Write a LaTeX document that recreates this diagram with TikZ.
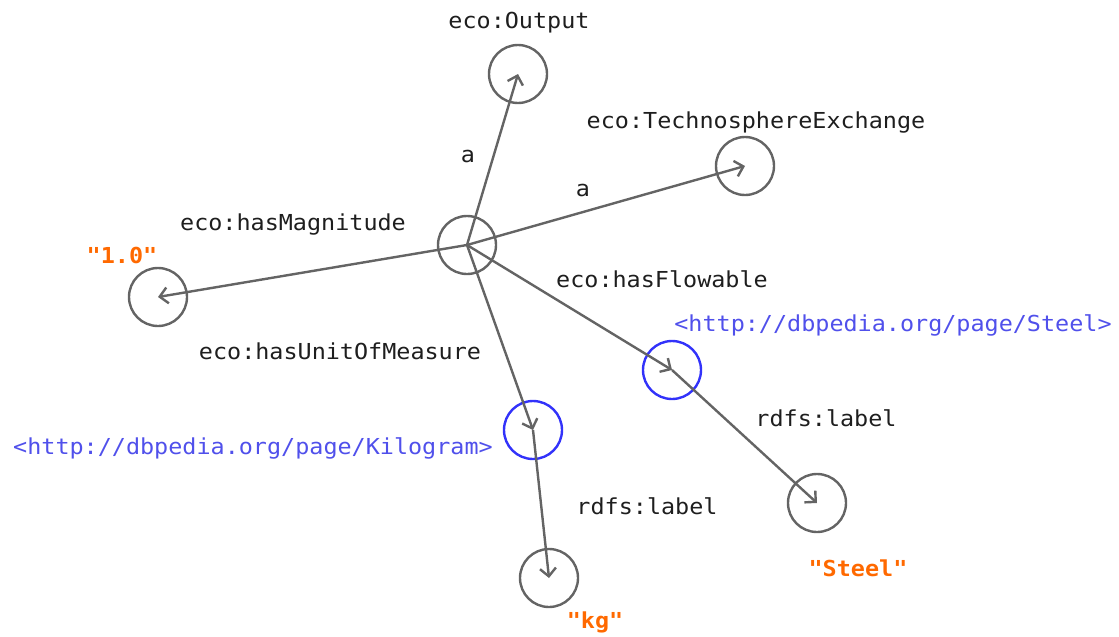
\documentclass[tikz,border=0pt]{standalone}
\usepackage{fontspec}
\usetikzlibrary{arrows.meta}
\newfontfamily\graphmono[FakeStretch=1.065]{DejaVu Sans Mono}
\definecolor{linegray}{RGB}{100,100,100}
\definecolor{textgray}{RGB}{30,30,30}
\definecolor{iriblue}{RGB}{50,50,250}
\definecolor{iritext}{RGB}{80,80,235}
\definecolor{litorange}{RGB}{255,105,0}
\tikzset{
  res/.style={circle, draw=linegray, line width=2.4pt, minimum size=58pt, inner sep=0pt},
  iri/.style={res, draw=iriblue},
  edge/.style={draw=linegray, line width=2.4pt, -{Straight Barb[length=8pt,width=16pt,line width=2.4pt]}},
  lbl/.style={anchor=base, inner sep=0pt, text=textgray, font=\graphmono\fontsize{22}{24}\selectfont},
  iril/.style={lbl, text=iritext},
  litl/.style={lbl, text=litorange, font=\graphmono\bfseries\fontsize{22}{24}\selectfont}
}
\begin{document}
\begin{tikzpicture}[x=1pt,y=-1pt]
\useasboundingbox (0,0) rectangle (1119,637);
% resources
\node[res] (exch) at (467,245) {};
\node[res] (output) at (518,74) {};
\node[res] (techno) at (745,166) {};
\node[res] (mag) at (158,297) {};
\node[iri] (steel) at (672,370) {};
\node[iri] (kilo) at (533,430) {};
\node[res] (steellit) at (817,503) {};
\node[res] (kglit) at (549,578) {};
% properties
\draw[edge] (exch.center) -- (output.center);
\draw[edge] (exch.center) -- (techno.center);
\draw[edge] (exch.center) -- (mag.center);
\draw[edge] (exch.center) -- (steel.center);
\draw[edge] (exch.center) -- (kilo.center);
\draw[edge] (steel.center) -- (steellit.center);
\draw[edge] (kilo.center) -- (kglit.center);
% node labels
\node[lbl] (t-output) at (519,28) {eco:Output};
\node[lbl] (t-techno) at (756,128) {eco:TechnosphereExchange};
\node[litl] (t-mag) at (122,263) {"1.0"};
\node[iril] (t-steel) at (893,331) {<http://dbpedia.org/page/Steel>};
\node[iril] (t-kilo) at (253,454) {<http://dbpedia.org/page/Kilogram>};
\node[litl] (t-steellit) at (858,576) {"Steel"};
\node[litl] (t-kglit) at (595,628) {"kg"};
% edge labels
\node[lbl] (p-a1) at (468,162) {a};
\node[lbl] (p-a2) at (583,196) {a};
\node[lbl] (p-mag) at (293,230) {eco:hasMagnitude};
\node[lbl] (p-flow) at (662,287) {eco:hasFlowable};
\node[lbl] (p-unit) at (340,359) {eco:hasUnitOfMeasure};
\node[lbl] (p-lab1) at (826,426) {rdfs:label};
\node[lbl] (p-lab2) at (647,514) {rdfs:label};
\end{tikzpicture}
\end{document}
